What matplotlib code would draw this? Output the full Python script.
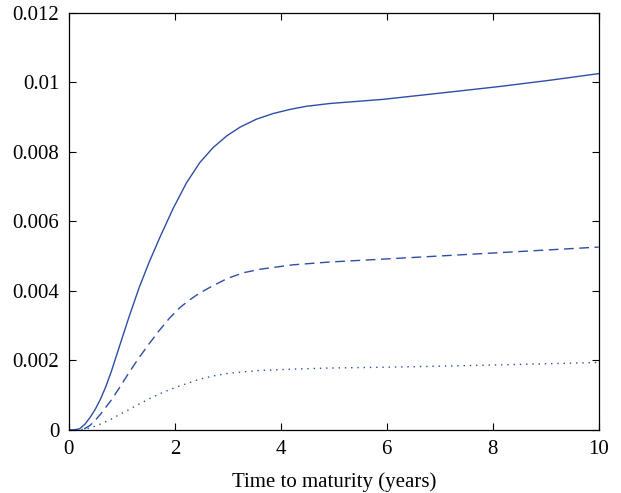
import numpy as np
import matplotlib.pyplot as plt
from matplotlib.ticker import FuncFormatter

plt.rcParams['font.family'] = ['Liberation Serif', 'DejaVu Serif']

# values
t_solid = [0, 0.1, 0.2, 0.3, 0.4, 0.5, 0.6, 0.7, 0.8, 0.94, 1.13, 1.32, 1.51, 1.72, 1.97, 2.22, 2.47,
           2.72, 2.98, 3.23, 3.54, 3.85, 4.17, 4.48, 4.92, 5.93, 7.19, 8.13, 9.08, 10.0]
v_solid = [0, 0.000003, 0.00003, 0.00016, 0.00036, 0.0006, 0.0009, 0.00126, 0.00168, 0.00234,
           0.00323, 0.00407, 0.00481, 0.00555, 0.00638, 0.00711, 0.00769, 0.00812, 0.00846, 0.00871,
           0.00894, 0.0091, 0.00922, 0.00931, 0.00939, 0.00951, 0.00972, 0.00988, 0.01006, 0.01025]

t_dash = [0, 0.2, 0.3, 0.4, 0.5, 0.6, 0.7, 0.8, 0.94, 1.13, 1.32, 1.51, 1.70, 1.89, 2.08, 2.26,
          2.45, 2.66, 2.98, 3.29, 3.60, 4.23, 4.92, 6.25, 8.13, 10.0]
v_dash = [0, 0.000005, 0.00004, 0.00013, 0.00028, 0.00046, 0.00066, 0.00086, 0.00118, 0.00164,
          0.00207, 0.00247, 0.00285, 0.0032, 0.0035, 0.00372, 0.00392, 0.0041, 0.00435, 0.00452,
          0.00462, 0.00475, 0.00483, 0.00494, 0.0051, 0.00526]

t_dot = [0, 0.2, 0.3, 0.4, 0.5, 0.6, 0.7, 0.8, 0.94, 1.13, 1.32, 1.51, 1.70, 1.89, 2.08, 2.26,
         2.47, 2.72, 2.98, 3.29, 3.60, 4.23, 4.92, 6.25, 8.13, 10.0]
v_dot = [0, 0.000004, 0.00002, 0.00006, 0.00011, 0.00017, 0.00024, 0.00031, 0.00043, 0.00058,
         0.00074, 0.00089, 0.00103, 0.00115, 0.00126, 0.00135, 0.00146, 0.00155, 0.00162, 0.00167,
         0.00171, 0.00175, 0.00178, 0.00181, 0.00187, 0.00194]

col = '#2e4ea6'

fig = plt.figure(figsize=(6.21, 4.93), dpi=100)
ax = fig.add_axes([0.111, 0.128, 0.853, 0.846])

ax.plot(t_solid, v_solid, '-', color=col, lw=1.0)
ax.plot(t_dash, v_dash, color=col, lw=1.0, dashes=(7, 4))
ax.plot(t_dot, v_dot, color=col, lw=1.0, dashes=(1, 3.5))

ax.set_xlim(0, 10)
ax.set_ylim(0, 0.012)
ax.set_xticks([0, 2, 4, 6, 8, 10])
ax.set_yticks(np.arange(0, 0.0121, 0.002))
ax.yaxis.set_major_formatter(FuncFormatter(lambda v, p: '%g' % round(v, 4)))
ax.tick_params(direction='in', top=True, right=True, length=5, width=0.8, labelsize=15, pad=7)
for s in ax.spines.values():
    s.set_linewidth(0.9)

ax.set_xlabel('Time to maturity (years)', fontsize=15, labelpad=10)

fig.savefig('out.png', dpi=100)
